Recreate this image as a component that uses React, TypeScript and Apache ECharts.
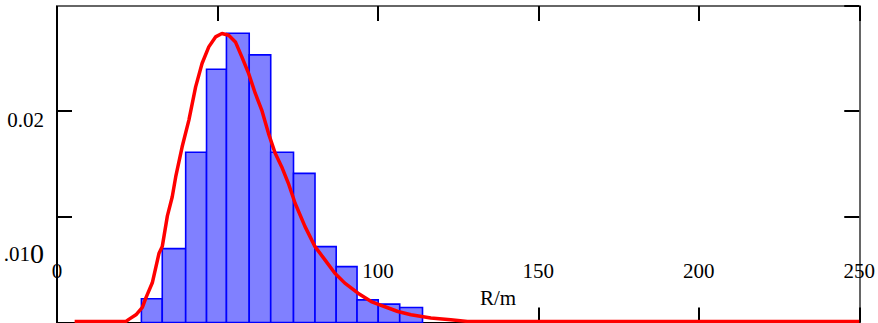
import React, { useEffect, useRef } from "react";
import * as echarts from "echarts";

// Histogram bin edges (R/m) and bar heights (density)
const binEdges = [26.3, 32.8, 40.1, 46.6, 52.8, 59.9, 66.6, 73.7, 80.4, 87.0, 93.5, 100.1, 106.8, 113.9];
const binHeights = [0.00224, 0.00698, 0.01608, 0.02393, 0.02733, 0.02528, 0.01608, 0.01409, 0.00717, 0.00528, 0.00214, 0.00174, 0.00142];

// Fitted density curve
const curveX = [5.5, 21.5, 22.5, 24.6, 26.6, 27.7, 29.7, 31.8, 32.8, 34.4, 35.9, 37.0, 39.0, 41.1, 43.2, 45.2, 47.3, 49.4, 51.4, 53.5, 55.6, 57.6, 59.7, 61.8, 63.8, 65.9, 68.0, 70.0, 72.1, 74.2, 77.3, 80.4, 83.5, 86.6, 89.7, 93.8, 97.9, 102.0, 106.2, 110.3, 116.5, 122.7, 127.9, 250];
const curveY = [0.0001, 0.0001, 0.00032, 0.00073, 0.00143, 0.00233, 0.00375, 0.00655, 0.00717, 0.01007, 0.01186, 0.01377, 0.0166, 0.01912, 0.02226, 0.02447, 0.02604, 0.02698, 0.0273, 0.02714, 0.02651, 0.02509, 0.02353, 0.02164, 0.02007, 0.01787, 0.01598, 0.01472, 0.01315, 0.01126, 0.00906, 0.00717, 0.00592, 0.00466, 0.00372, 0.00277, 0.00198, 0.00151, 0.00104, 0.00073, 0.00042, 0.00025, 0.0001, 0.0001];

// Axis settings and labels
const xMin = 0;
const xMax = 250;
const xStep = 50;
const yMin = 0;
const yMax = 0.0299;
const yStep = 0.01;
const xAxisTitle = "R/m";

const FONT = "Liberation Serif";

export default function App() {
  const ref = useRef<HTMLDivElement>(null);

  useEffect(() => {
    if (!ref.current) return;
    const chart = echarts.init(ref.current, undefined, { renderer: "svg" });

    const barData = binHeights.map((h, i) => [binEdges[i], binEdges[i + 1], h]);
    const lineData = curveX.map((x, i) => [x, curveY[i]]);

    const tick = { show: true, inside: true, length: 15, lineStyle: { color: "#000", width: 2 } };

    chart.setOption({
      animation: false,
      backgroundColor: "#fff",
      grid: { left: 57, right: 12.5, top: 6, bottom: 0.5, containLabel: false },
      xAxis: [
        {
          type: "value",
          min: xMin,
          max: xMax,
          interval: xStep,
          position: "bottom",
          splitLine: { show: false },
          axisLine: { show: true, onZero: false, lineStyle: { color: "#000", width: 2 } },
          axisTick: tick,
          axisLabel: {
            inside: true,
            margin: 41,
            fontFamily: FONT,
            fontSize: 21,
            color: "#000",
            showMinLabel: true,
            showMaxLabel: true,
          },
        },
        {
          type: "value",
          min: xMin,
          max: xMax,
          interval: xStep,
          position: "top",
          splitLine: { show: false },
          axisLine: { show: true, onZero: false, lineStyle: { color: "#666", width: 2 } },
          axisTick: tick,
          axisLabel: { show: false },
        },
      ],
      yAxis: [
        {
          type: "value",
          min: yMin,
          max: yMax,
          interval: yStep,
          position: "left",
          splitLine: { show: false },
          axisLine: { show: true, onZero: false, lineStyle: { color: "#000", width: 2 } },
          axisTick: tick,
          axisLabel: {
            margin: 13,
            fontFamily: FONT,
            fontSize: 21,
            color: "#000",
            showMaxLabel: false,
            formatter: (v: number) => {
              if (Math.abs(v - 0.02) < 1e-6) return "{a|0.02}";
              if (Math.abs(v - 0.01) < 1e-6) return "{b|.01}{c|0}";
              return "";
            },
            rich: {
              a: { fontFamily: FONT, fontSize: 21, color: "#000", padding: [19, 0, 0, 0] },
              b: { fontFamily: FONT, fontSize: 21, color: "#000", padding: [74, 0, 0, 0] },
              c: { fontFamily: FONT, fontSize: 28, color: "#000", padding: [74, 0, 0, 0] },
            },
          },
        },
        {
          type: "value",
          min: yMin,
          max: yMax,
          interval: yStep,
          position: "right",
          splitLine: { show: false },
          axisLine: { show: true, onZero: false, lineStyle: { color: "#666", width: 2 } },
          axisTick: tick,
          axisLabel: { show: false },
        },
      ],
      graphic: [
        {
          type: "text",
          left: 480,
          top: 287,
          z: 10,
          style: { text: xAxisTitle, fontFamily: FONT, fontSize: 21, fill: "#000" },
        },
      ],
      series: [
        {
          type: "custom",
          xAxisIndex: 0,
          yAxisIndex: 0,
          z: 3,
          encode: { x: [0, 1], y: 2 },
          data: barData,
          renderItem: (params: any, api: any) => {
            const x0 = api.value(0);
            const x1 = api.value(1);
            const h = api.value(2);
            const p0 = api.coord([x0, h]);
            const p1 = api.coord([x1, 0]);
            return {
              type: "rect",
              shape: { x: p0[0], y: p0[1], width: p1[0] - p0[0], height: p1[1] - p0[1] },
              style: { fill: "#8080ff", stroke: "#0000ff", lineWidth: 1.6 },
            };
          },
        },
        {
          type: "line",
          xAxisIndex: 0,
          yAxisIndex: 0,
          z: 5,
          data: lineData,
          showSymbol: false,
          smooth: false,
          lineStyle: { color: "#ff0000", width: 3.5 },
        },
      ],
    });

    return () => chart.dispose();
  }, []);

  return (
    <div
      ref={ref}
      style={{ position: "fixed", left: 0, top: 0, width: 878, height: 323, background: "#fff" }}
    />
  );
}
